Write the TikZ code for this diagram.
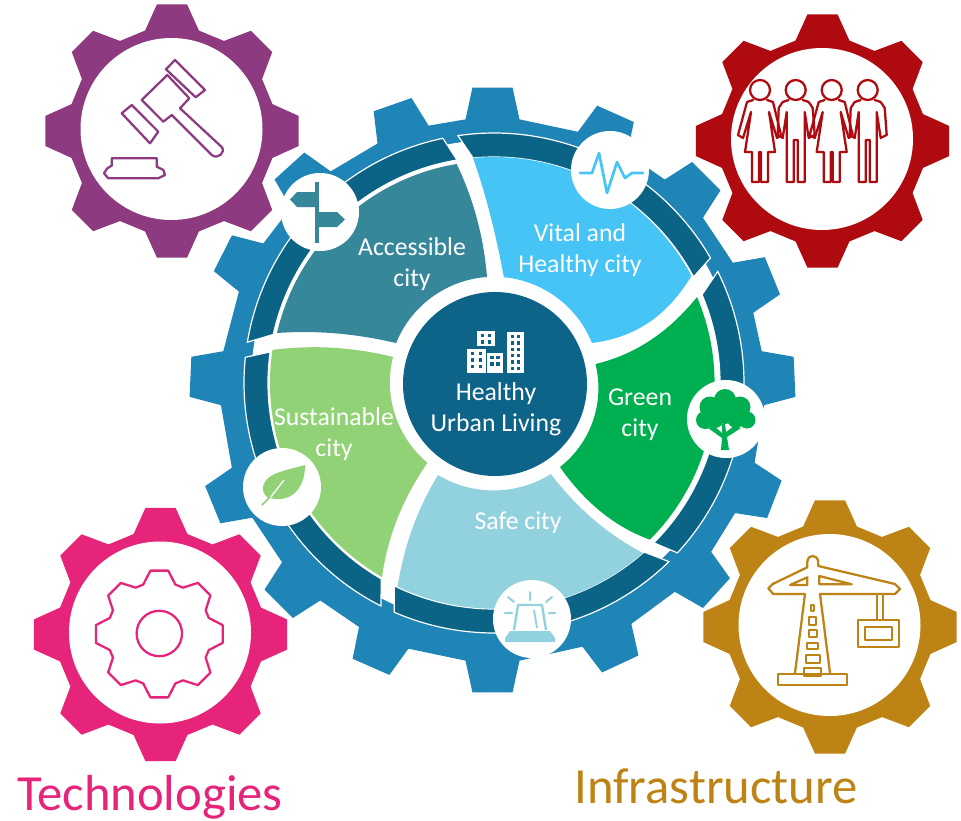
\documentclass[tikz,border=0pt]{standalone}
\usepackage{fontspec}
\setmainfont{Carlito}
\usepackage{tikz}
\definecolor{gearblue}{HTML}{1F84B6}
\definecolor{ringblue}{HTML}{0B6485}
\definecolor{hubblue}{HTML}{0E6488}
\definecolor{tealcity}{HTML}{37879A}
\definecolor{skycity}{HTML}{47C4F6}
\definecolor{greencity}{HTML}{00AF50}
\definecolor{palecity}{HTML}{92D2DE}
\definecolor{leafcity}{HTML}{92D277}
\definecolor{gearpurple}{HTML}{8E3A80}
\definecolor{gearred}{HTML}{AE0A10}
\definecolor{gearpink}{HTML}{E6247A}
\definecolor{geargold}{HTML}{BD8314}
\tikzset{
  citylabel/.style={text=white,align=center,inner sep=0.75pt,font=\fontsize{19.3}{23.2}\selectfont},
  iconring/.style={circle,fill=white,minimum size=58.5pt,inner sep=0pt},
  iconline/.style={line width=1.7pt,line join=round,line cap=round},
}

\begin{document}
\begin{tikzpicture}[x=0.75pt,y=0.75pt,yscale=-1,xscale=1]
\useasboundingbox (0,0) rectangle (961,821);

%Large gear
\fill [gearblue,shift={(492.5,390)}] (264.4:272) \foreach \a in {270,294,315,337.8,357.5,381.2,402.2,425,450,473.7,495,517.7,542.5,566.9,587.8,610.7} { -- (\a-5.7:272) -- (\a-3.8:303) -- (\a+3.8:303) -- (\a+5.7:272) } -- cycle;
\fill [white] (494,383) circle [radius=243];

%Ring segments
\foreach \ao/\bo/\bi/\ai in {333.5/402.8/405/337, 45.6/113.5/116.2/48.4, 116.9/185.9/187.9/119.9, 189.4/258.2/260.6/192.4, 261.7/330/332/264.7}
  \filldraw [fill=ringblue,draw=white,line width=0.9pt,shift={(494,383)}] (\ao:250) arc [start angle=\ao,end angle=\bo,radius=250] -- (\bi:226) arc [start angle=\bi,end angle=\ai,radius=226] -- cycle;

%Accessible
\fill [tealcity] (277,333) arc [start angle=193,end angle=260.5,radius=222] .. controls (473.6,199.3) and (483.7,237) .. (487,277) arc [start angle=266,end angle=202,radius=106] .. controls (354.3,333.3) and (315.7,330.3) .. (277,333) -- cycle;
%Vital
\fill [skycity] (473,158) arc [start angle=264.7,end angle=332,radius=224] .. controls (665.3,319) and (632,338) .. (592,343) arc [start angle=338,end angle=275.5,radius=106] .. controls (496.3,236.3) and (486.7,196.7) .. (473,158) -- cycle;
%Green
\fill [greencity] (697,297) arc [start angle=337,end angle=405,radius=221] .. controls (614.7,527) and (584,501.7) .. (560,467) arc [start angle=52,end angle=-14,radius=100] .. controls (635,354.7) and (669,332) .. (697,297) -- cycle;
%Safe
\fill [palecity] (643,553) arc [start angle=48.8,end angle=115.6,radius=225] .. controls (404.3,544.3) and (418,507.7) .. (438,475) arc [start angle=121,end angle=58,radius=108] .. controls (577,508.3) and (607.3,534.3) .. (643,553) -- cycle;
%Sustainable
\fill [leafcity] (382,577) arc [start angle=120,end angle=188.5,radius=224] .. controls (312.7,344.7) and (353,347) .. (393,357) arc [start angle=194,end angle=130,radius=105] .. controls (402,499.7) and (387.7,537) .. (382,577) -- cycle;

%Hub
\node (hub) [circle,fill=hubblue,minimum size=138pt,inner sep=0pt] at (495,384) {};
\foreach \bx/\by/\bw/\bh/\rows in {477/331/18/15/2, 467/349/19/24/3, 487/353/16/20/2, 507/332/17/41/6} {
  \fill [white] (\bx,\by) rectangle ++(\bw,\bh);
  \foreach \r in {1,...,\rows} \foreach \c in {1,2}
    \fill [hubblue] ({\bx+\bw*(\c*0.5-0.25)-1.7+(\c-1.5)*-2},{\by+3+(\r-1)*6.3}) rectangle ++(3.4,3.4);
}
\node (hubtext) [citylabel] at (496,409) {Healthy\\Urban Living};

%City labels
\node (accessibletext) [citylabel] at (412,264) {Accessible\\city};
\node (vitaltext) [citylabel] at (580,250) {Vital and\\Healthy city};
\node (greentext) [citylabel] at (640,415) {Green\\city};
\node (safetext) [citylabel] at (518,523) {Safe city};
\node (sustainabletext) [citylabel] at (334,434) {Sustainable\\city};

%Icon discs
\node (signpost) [iconring] at (320,212) {};
\node (pulse) [iconring] at (610,170) {};
\node (tree) [iconring] at (726,419) {};
\node (siren) [iconring] at (532,619) {};
\node (leaf) [iconring] at (282,487) {};

%Signpost
\fill [tealcity] (315,182) rectangle (319,243);
\fill [tealcity] (290,199.5) -- (297,192) -- (315,192) -- (315,207) -- (297,207) -- cycle;
\fill [tealcity] (319,212) -- (337,212) -- (345,219.5) -- (337,227) -- (319,227) -- cycle;
%Pulse
\draw [skycity,line width=2pt,line join=round,line cap=round] (580,173) -- (592,173) -- (599,153) -- (607,193) -- (617,162) -- (625,178) -- (632,173) -- (643,173);
%Tree
\fill [greencity] (725,400) circle [radius=11] (710,407) circle [radius=10.5] (740,407) circle [radius=10.5] (705,420) circle [radius=9] (747,420) circle [radius=8.5] (715,419) circle [radius=9] (736,419) circle [radius=9] (725,412) circle [radius=12];
\fill [greencity] (721,450) -- (729,450) -- (727,437) -- (741,428) -- (734,426) -- (726,432) -- (725,424) -- (722,424) -- (722,433) -- (714,426) -- (708,428) -- (722,438) -- cycle;
%Siren
\draw [palecity,line width=1.8pt,line join=round] (514,630) -- (518,605) -- (542,605) -- (546,630);
\draw [palecity,line width=1.4pt] (534,610) -- (537,628);
\fill [palecity] (510,631) -- (550,631) -- (555,638) -- (555,642) -- (505,642) -- (505,638) -- cycle;
\draw [palecity,line width=1.5pt,line cap=round] (530,592) -- (530,600) (508,597) -- (514,602) (552,597) -- (546,602) (505,613) -- (512,613) (549,613) -- (555,613);
%Leaf
\fill [leafcity] (305,465) .. controls (285,471) and (262,473) .. (263,490) .. controls (264,495) and (267,498) .. (270,498) .. controls (290,503) and (305,490) .. (305,465) -- cycle;
\draw [white,line width=1pt] (270,498) -- (284,480);
\draw [leafcity,line width=1.2pt,line cap=round] (262,505) -- (270,497);

%Small gears
\foreach \cx/\cy/\gearcol in {172/131/gearpurple, 822.5/141/gearred, 160.5/634.5/gearpink, 830/627/geargold} {
  \fill [\gearcol,shift={(\cx,\cy)}] (-15:104) \foreach \a in {0,45,...,315} { -- (\a-15:104) -- (\a-6.8:127.5) -- (\a+6.8:127.5) -- (\a+15:104) } -- cycle;
  \fill [white] (\cx-0.5,\cy-2) circle [radius=91];
}

%Gavel
\begin{scope}[gearpurple,iconline]
\draw (175,60) -- (205,90) -- (195.7,97.3) -- (166,69.3) -- cycle;
\draw (131.7,105) -- (158.3,131.7) -- (150,143.3) -- (121.7,113.3) -- cycle;
\draw (167.3,75) -- (141.7,100) -- (163.3,121.7) -- (171.7,115) -- (211.7,155) .. controls (218,160) and (226,152) .. (221.7,147) -- (180,108.3) -- (189.3,98.3) -- cycle;
\draw (111.7,158.3) -- (156.7,158.3) -- (156.7,166.7) -- (163.3,170) -- (165,175) -- (158.3,178.3) -- (108.3,178.3) -- (104,173.3) -- (107.3,168.3) -- (111.7,165.7) -- cycle;
\end{scope}

%People
\begin{scope}[gearred,iconline]
\foreach \hx in {760,831.7} {
  \draw (\hx,90) circle [radius=10];
  \begin{scope}[shift={(\hx,90)}]
  \draw (-7,10) -- (-13,12) -- (-22,45) -- (-17,48) -- (-9,22) -- (-15,62) -- (-8,62) -- (-8,92) -- (-1,92) -- (-1,62) -- (1,62) -- (1,92) -- (8,92) -- (8,62) -- (15,62) -- (9,22) -- (17,48) -- (21,45) -- (13,12) -- (7,10);
  \end{scope}
}
\foreach \hx in {795.7,867.7} {
  \draw (\hx,90) circle [radius=10];
  \begin{scope}[shift={(\hx,90)}]
  \draw (-7,10) -- (-13,12) -- (-17,18) -- (-18,45) -- (-13,48) -- (-9,22) -- (-9,92) -- (-2,92) -- (-2,50) -- (2,50) -- (2,92) -- (9,92) -- (9,22) -- (13,48) -- (19,45) -- (17,18) -- (13,12) -- (7,10);
  \end{scope}
}
\end{scope}

%Cog
\begin{scope}[gearpink,iconline]
\draw [shift={(159.3,634)}] (-18:52) \foreach \a in {0,45,...,315} { -- (\a-18:52) -- (\a-8:64) -- (\a+8:64) -- (\a+18:52) } -- cycle;
\draw (159.3,633.5) circle [radius=22.7];
\end{scope}

%Crane
\begin{scope}[geargold,iconline]
\draw (773.3,594) -- (768.3,588.3) -- (772.7,584) -- (807.3,567.3) -- (807.3,561.7) .. controls (808,554) and (817,554) .. (818.3,561.7) -- (818.3,566) -- (895,584) -- (900,589) -- (895,594) -- (820,594) -- (830,673) (805,594) -- (795,673) (805,594) -- (773.3,594);
\draw (778.3,674) rectangle (847.3,685);
\draw (790,585) -- (807.3,577.3) -- (807.3,585) -- cycle;
\draw (819.3,576) -- (851.7,584.3) -- (819.3,584.3) -- cycle;
\foreach \rungw/\rungt/\rungb in {3/605/611, 7/617/625, 8/630/637, 11/643/649, 14/655/663, 17/668/676}
  \draw (812.7-\rungw/2,\rungt) rectangle (812.7+\rungw/2,\rungb);
\draw (876.7,594) -- (876.7,620) (883.3,594) -- (883.3,620);
\draw (858.3,620) rectangle (899.3,646.7);
\draw (865,626.7) rectangle (891.7,640);
\end{scope}

%Captions
\node (technologies) [text=gearpink,inner sep=0.75pt,font=\fontsize{38}{44}\selectfont] at (150,797) {Technologies};
\node (infrastructure) [text=geargold,inner sep=0.75pt,font=\fontsize{38}{44}\selectfont] at (716,786) {Infrastructure};

\end{tikzpicture}
\end{document}
